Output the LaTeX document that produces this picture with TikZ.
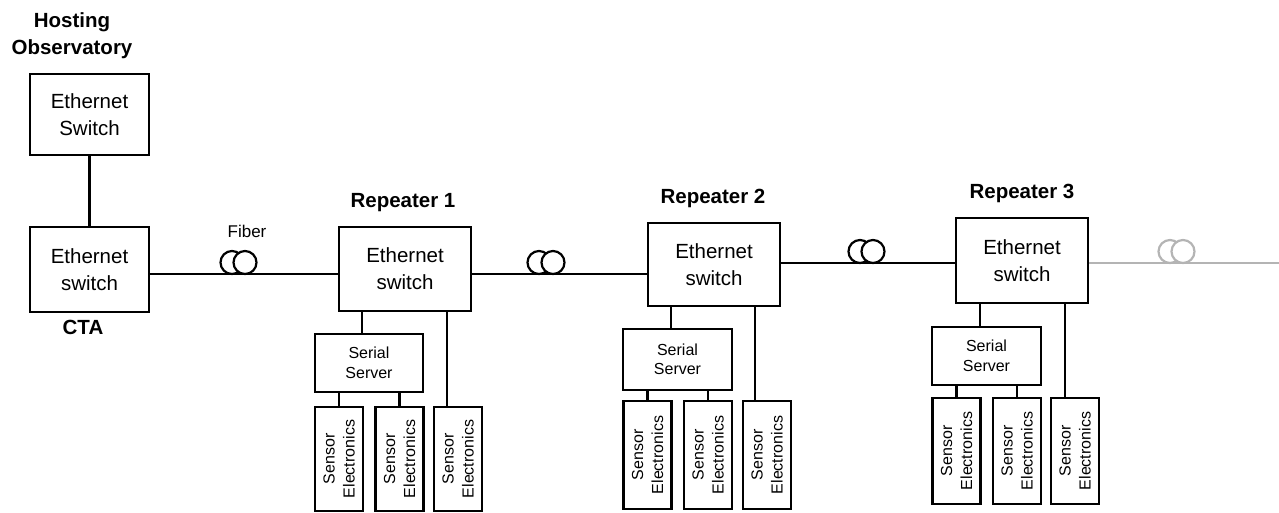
\documentclass[tikz,border=0pt]{standalone}
\usepackage{fontspec}
\setmainfont{Liberation Sans}
\definecolor{fgrey}{HTML}{B4B4B4}
\begin{document}
\begin{tikzpicture}[x=1pt,y=-1pt,
  esbox/.style={draw, line width=2.2pt, align=center, inner sep=0pt,
    font=\fontsize{20.5}{27}\selectfont},
  serbox/.style={draw, line width=2.2pt, align=center, inner sep=0pt,
    minimum height=58pt, font=\fontsize{16}{19.5}\selectfont},
  sensbox/.style={draw, line width=2.2pt, inner sep=0pt, minimum width=48pt},
  senstext/.style={rotate=90, align=center, inner sep=0pt,
    font=\fontsize{16}{20}\selectfont},
  boldlbl/.style={align=center, inner sep=0pt,
    font=\fontsize{20.5}{27}\selectfont\bfseries},
  fiberlbl/.style={inner sep=0pt, font=\fontsize{17}{20}\selectfont},
  coil/.style={circle, draw, line width=2.2pt, inner sep=0pt, minimum size=23pt},
  wire/.style={line width=2.2pt},
  greywire/.style={line width=2.2pt, draw=fgrey}]
\useasboundingbox (0,0) rectangle (1279,512);

% labels
\node[boldlbl, anchor=north] (hostlbl) at (72,12) {Hosting\\Observatory};
\node[boldlbl, anchor=base] (ctalbl) at (83,334) {CTA};
\node[boldlbl, anchor=base] (r1lbl) at (403,207) {Repeater 1};
\node[boldlbl, anchor=base] (r2lbl) at (713,203) {Repeater 2};
\node[boldlbl, anchor=base] (r3lbl) at (1022,198) {Repeater 3};
\node[fiberlbl, anchor=base] (fiblbl) at (247,237) {Fiber};

% ethernet switches
\node[esbox, minimum width=119pt, minimum height=81pt] (hs) at (89.5,114.5) {Ethernet\\Switch};
\node[esbox, minimum width=119pt, minimum height=85pt] (cta) at (89.5,269.5) {Ethernet\\switch};
\node[esbox, minimum width=132pt, minimum height=84pt] (r1) at (405,269) {Ethernet\\switch};
\node[esbox, minimum width=132pt, minimum height=83pt] (r2) at (714,264.5) {Ethernet\\switch};
\node[esbox, minimum width=132pt, minimum height=85pt] (r3) at (1022,260.5) {Ethernet\\switch};
\coordinate (tail) at (1279,263);

% serial servers
\node[serbox, minimum width=108pt] (s1) at (369,363) {Serial\\Server};
\node[serbox, minimum width=109pt, minimum height=61pt] (s2) at (677.5,359.5) {Serial\\Server};
\node[serbox, minimum width=109pt] (s3) at (986.5,356) {Serial\\Server};

% sensor electronics
\foreach \n/\x/\yc/\h in {11/339/459/104, 12/399.5/459/104, 13/458/459/104,
                         21/647.5/455/108, 22/708/455/108, 23/767/455/108,
                         31/956.5/451/106, 32/1017/451/106, 33/1075/451/106}{
  \node[sensbox, minimum height=\h pt] (se\n) at (\x,\yc) {};
  \node[senstext] (set\n) at (se\n) {Sensor\\Electronics};
}

% fiber coils
\node[coil] (f1a) at (232,262.5) {};
\node[coil, fill=white] (f1b) at (245,262.5) {};
\node[coil] (f2a) at (539,262.5) {};
\node[coil, fill=white] (f2b) at (553,262.5) {};
\node[coil] (f3a) at (860,251.5) {};
\node[coil, fill=white] (f3b) at (873,251.5) {};
\node[coil, draw=fgrey] (f4a) at (1170,251.5) {};
\node[coil, draw=fgrey, fill=white] (f4b) at (1183,251.5) {};

% connectors
\draw[wire] (hs.south) -- (cta.north);
\draw[wire] ([yshift=-4.5pt]cta.east) -- ([yshift=-4.5pt]cta.east -| r1.west);
\draw[wire] ([yshift=-5pt]r1.east) -- ([yshift=-5pt]r1.east -| r2.west);
\draw[wire] ([yshift=1.5pt]r2.east) -- ([yshift=1.5pt]r2.east -| r3.west);
\draw[greywire] ([yshift=-2.5pt]r3.east) -- (tail);

% repeater 1
\draw[wire] ([xshift=-7pt]s1.north) -- ([xshift=-7pt]s1.north |- r1.south);
\draw[wire] ([xshift=-11pt]se13.north) -- ([xshift=-11pt]se13.north |- r1.south);
\draw[wire] (se11.north) -- (se11.north |- s1.south);
\draw[wire] (se12.north) -- (se12.north |- s1.south);
% repeater 2
\draw[wire] ([xshift=-6.5pt]s2.north) -- ([xshift=-6.5pt]s2.north |- r2.south);
\draw[wire] ([xshift=-12pt]se23.north) -- ([xshift=-12pt]se23.north |- r2.south);
\draw[wire] (se21.north) -- (se21.north |- s2.south);
\draw[wire] (se22.north) -- (se22.north |- s2.south);
% repeater 3
\draw[wire] ([xshift=-6.5pt]s3.north) -- ([xshift=-6.5pt]s3.north |- r3.south);
\draw[wire] ([xshift=-10pt]se33.north) -- ([xshift=-10pt]se33.north |- r3.south);
\draw[wire] (se31.north) -- (se31.north |- s3.south);
\draw[wire] (se32.north) -- (se32.north |- s3.south);
\end{tikzpicture}
\end{document}
